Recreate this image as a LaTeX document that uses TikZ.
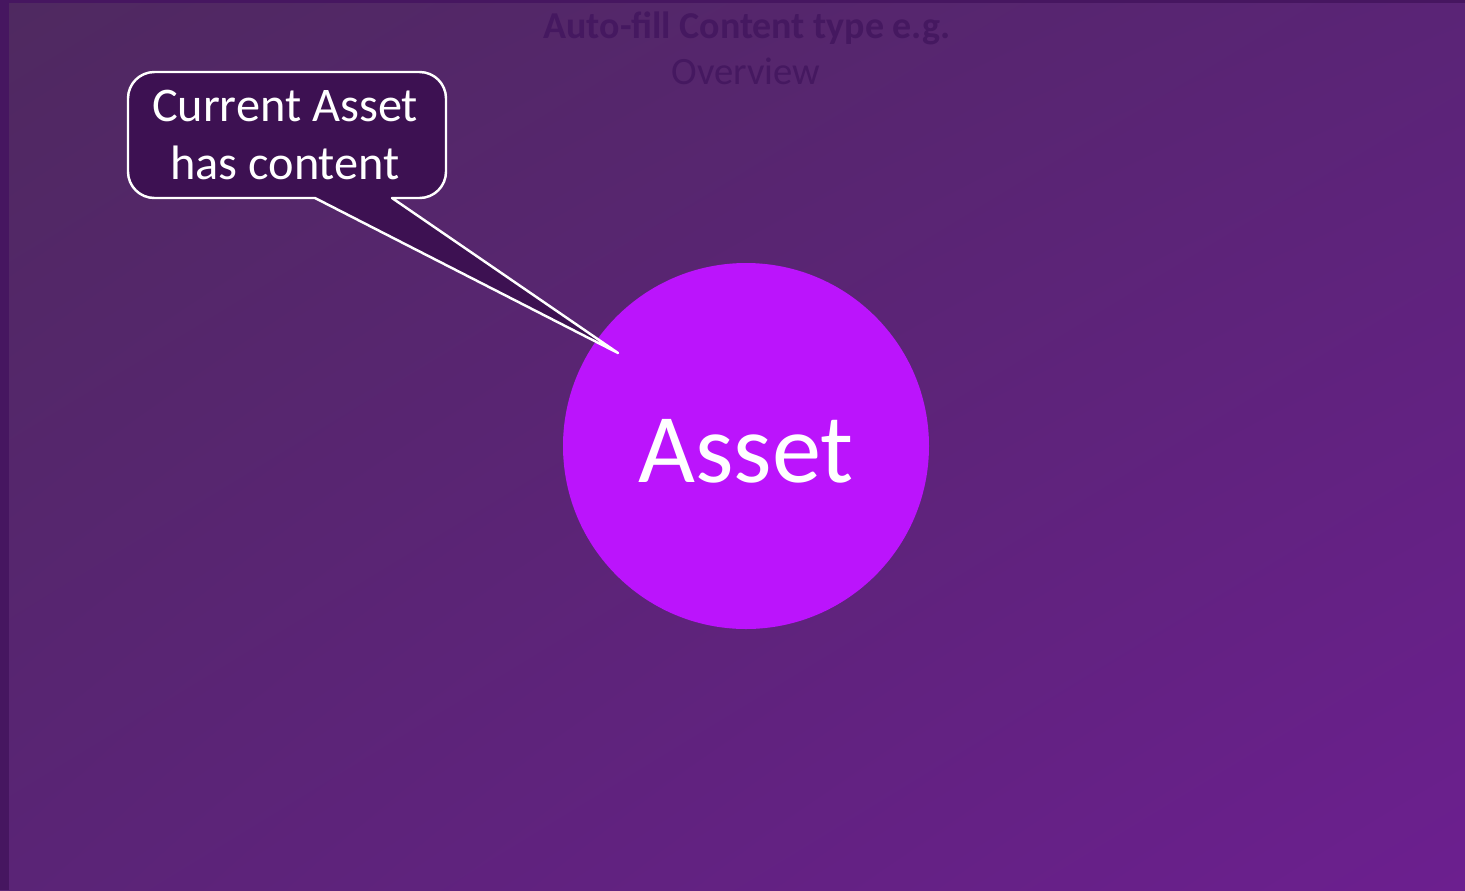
\documentclass[tikz,border=0pt]{standalone}
\usepackage{fontspec}
\setmainfont{Carlito}
\usepackage{tikz}
\usepackage{xcolor}
\usetikzlibrary{positioning,calc,shadings}
\definecolor{bgtopleft}{RGB}{79,41,96}
\definecolor{bgmid}{RGB}{90,36,118}
\definecolor{bgbotright}{RGB}{108,31,143}
\definecolor{edgedark}{RGB}{70,22,96}
\definecolor{titlepurple}{RGB}{69,24,96}
\definecolor{calloutfill}{RGB}{61,17,82}
\definecolor{assetpink}{RGB}{187,20,252}
\tikzset{
  titletext/.style={text=titlepurple,font=\fontsize{22}{26}\selectfont,inner sep=0pt},
  calloutbox/.style={draw=white,line width=1.4pt,fill=calloutfill,line join=round},
  callouttext/.style={text=white,align=center,font=\fontsize{27.5}{33}\selectfont},
  assetnode/.style={circle,fill=assetpink,minimum size=366*0.02cm,inner sep=0pt},
  assetlabel/.style={text=white,font=\fontsize{56}{60}\selectfont,yshift=-0.1cm}
}

\begin{document}
\begin{tikzpicture}[x=0.02cm,y=-0.02cm]
  \useasboundingbox (0,0) rectangle (1465,890);
  % background
  \shade[upper left=bgtopleft,lower right=bgbotright,upper right=bgmid,lower left=bgmid] (0,0) rectangle (1465,890);
  \fill[edgedark] (0,0) rectangle (9,890);
  \fill[edgedark] (0,0) rectangle (1465,3);
  % title
  \node[titletext,font=\bfseries\fontsize{21.6}{26}\selectfont,anchor=base] (title) at (747,38) {Auto-fill Content type e.g.};
  \node[titletext,anchor=base] (subtitle) at (746,84) {Overview};
  % asset circle
  \node[assetnode,label={[assetlabel]center:Asset}] (asset) at (746,446) {};
  \coordinate (tip) at (618,353);
  % callout with pointer
  \draw[calloutbox] (tip) -- (315,198) [rounded corners=15] -- (128,198) -- (128,72) -- (446,72) -- (446,198)
    [sharp corners] -- (392,198) -- cycle;
  \node[callouttext] (callout) at (285,135) {Current Asset\\has content};
\end{tikzpicture}
\end{document}
